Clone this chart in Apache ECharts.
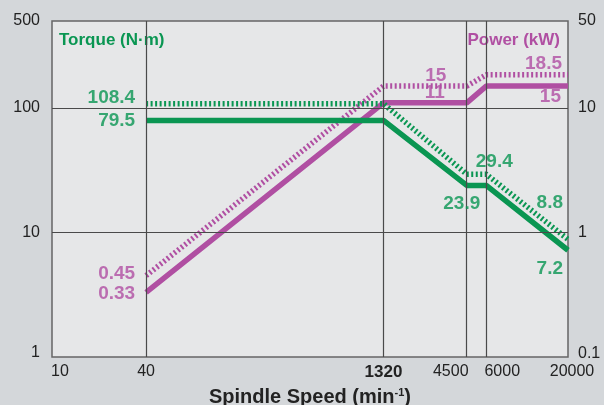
<!DOCTYPE html>
<html><head><meta charset="utf-8">
<script src="https://cdn.jsdelivr.net/npm/echarts@6/dist/echarts.min.js"></script>
<style>html,body{margin:0;padding:0;background:#d4d7da}#c{width:604px;height:405px}</style>
</head><body><div id="c"></div>
<script>
const speeds = [40, 1320, 4500, 6000, 20000];
const torqueCont = [79.5, 79.5, 23.9, 23.9, 7.2];
const torqueShort = [108.4, 108.4, 29.4, 29.4, 8.8];
const powerCont = [0.33, 11, 11, 15, 15];
const powerShort = [0.45, 15, 15, 18.5, 18.5];
const xTicks = [10, 40, 1320, 4500, 6000, 20000];
const leftTicks = [1, 10, 100, 500];
const rightTicks = [0.1, 1, 10, 50];
const gridX = [40, 1320, 4500, 6000];
const gridY = [10, 100];
const torqueTitle = 'Torque (N·m)';
const powerTitle = 'Power (kW)';

const GREEN = '#0a9652';
const PURPLE = '#b04fa2';
const FONT = '"Liberation Sans", Arial, sans-serif';

function pts(ys){ return speeds.map((x,i)=>[x, ys[i]]); }

function lbl(i, ys, color, align, off){
  return {value:[speeds[i], ys[i]], label:{show:true, formatter:String(ys[i]), color:color,
    align:align, verticalAlign:'middle', position:'inside', offset:off,
    fontFamily:FONT, fontWeight:'bold', fontSize:19}};
}

const torqueLabels = [
  lbl(0, torqueShort, GREEN, 'right', [-11,-6]),
  lbl(0, torqueCont, GREEN, 'right', [-11,0]),
  lbl(3, torqueShort, GREEN, 'center', [8,-12]),
  lbl(2, torqueCont, GREEN, 'center', [-5,18]),
  lbl(4, torqueShort, GREEN, 'right', [-5,-37]),
  lbl(4, torqueCont, GREEN, 'right', [-5,18])
];
const powerLabels = [
  lbl(0, powerShort, PURPLE, 'right', [-11,-2]),
  lbl(0, powerCont, PURPLE, 'right', [-11,1]),
  lbl(2, powerShort, PURPLE, 'center', [-31,-10]),
  lbl(2, powerCont, PURPLE, 'center', [-32,-10]),
  lbl(4, powerShort, PURPLE, 'right', [-6,-11]),
  lbl(4, powerCont, PURPLE, 'right', [-7,11])
];

// per-tick label nudges (style only)
const tickStyle = {10:'l', 1320:'b', 4500:'m', 6000:'p', 20000:'r'};

const chart = echarts.init(document.getElementById('c'));
const lineW = 5.5;
const tickBase = {fontFamily:FONT, fontSize:16, color:'#222'};
chart.setOption({
  backgroundColor:'#d4d7da',
  animation:false,
  textStyle:{fontFamily:FONT},
  grid:{left:52, right:36, top:21, bottom:48, outerBoundsMode:'none', containLabel:false,
    show:true, backgroundColor:'#e6e7e8', borderColor:'#666', borderWidth:1.5},
  xAxis:{type:'log', logBase:10, min:10, max:20000,
    name:'{a|Spindle Speed (min}{s|-1}{a|)}', nameLocation:'middle', nameGap:30,
    nameTextStyle:{rich:{a:{fontFamily:FONT, fontWeight:'bold', fontSize:20, color:'#222'},
      s:{fontFamily:FONT, fontWeight:'bold', fontSize:11, color:'#222', verticalAlign:'top', padding:[0,0,9,0]}}},
    axisLine:{show:false}, axisTick:{show:false}, splitLine:{show:false}, minorTick:{show:false},
    axisLabel:{customValues:xTicks, margin:7, color:'#222', fontSize:16, fontFamily:FONT,
      formatter:v=> tickStyle[v] ? '{'+tickStyle[v]+'|'+v+'}' : String(v),
      rich:{
        b:Object.assign({}, tickBase, {fontWeight:'bold', fontSize:17}),
        l:Object.assign({}, tickBase, {padding:[0,0,0,16]}),
        m:Object.assign({}, tickBase, {padding:[0,32,0,0]}),
        p:Object.assign({}, tickBase, {padding:[0,0,0,32]}),
        r:Object.assign({}, tickBase, {padding:[0,0,0,8]})
      }}},
  yAxis:[
    {type:'log', logBase:10, min:1, max:500, axisLine:{show:false}, axisTick:{show:false}, splitLine:{show:false},
      axisLabel:{customValues:leftTicks, margin:12, color:'#222', fontSize:16, fontFamily:FONT,
        formatter:v=> v===1 ? '{u|1}' : String(v), rich:{u:Object.assign({}, tickBase, {padding:[0,0,8,0]})}}},
    {type:'log', logBase:10, min:0.1, max:50, axisLine:{show:false}, axisTick:{show:false}, splitLine:{show:false},
      axisLabel:{customValues:rightTicks, margin:10, color:'#222', fontSize:16, fontFamily:FONT,
        formatter:v=> v===0.1 ? '{u|0.1}' : String(v), rich:{u:Object.assign({}, tickBase, {padding:[0,0,6,0]})}}}
  ],
  graphic:[
    {type:'text', left:59, top:32, style:{text:torqueTitle, fill:GREEN, font:'bold 17px '+FONT}},
    {type:'text', right:44, top:32, style:{text:powerTitle, fill:PURPLE, font:'bold 17px '+FONT}}
  ],
  series:[
    {type:'line', data:[], z:1, markLine:{silent:true, symbol:'none', animation:false,
      lineStyle:{color:'#4a4a4a', width:1.2, type:'solid'}, label:{show:false},
      data:[...gridX.map(v=>({xAxis:v})), ...gridY.map(v=>({yAxis:v}))]}},
    {type:'line', yAxisIndex:1, data:pts(powerShort), symbol:'none', z:3,
      lineStyle:{color:PURPLE, width:lineW, type:[2,2.5], cap:'butt'}},
    {type:'line', yAxisIndex:1, data:pts(powerCont), symbol:'none', z:3,
      lineStyle:{color:PURPLE, width:lineW, type:'solid', cap:'butt'}},
    {type:'line', yAxisIndex:0, data:pts(torqueShort), symbol:'none', z:4,
      lineStyle:{color:GREEN, width:lineW, type:[2,2.5], cap:'butt'}},
    {type:'line', yAxisIndex:0, data:pts(torqueCont), symbol:'none', z:4,
      lineStyle:{color:GREEN, width:lineW, type:'solid', cap:'butt'}},
    {type:'scatter', yAxisIndex:0, data:torqueLabels, symbolSize:0, z:6, silent:true},
    {type:'scatter', yAxisIndex:1, data:powerLabels, symbolSize:0, z:6, silent:true}
  ]
});
</script></body></html>
